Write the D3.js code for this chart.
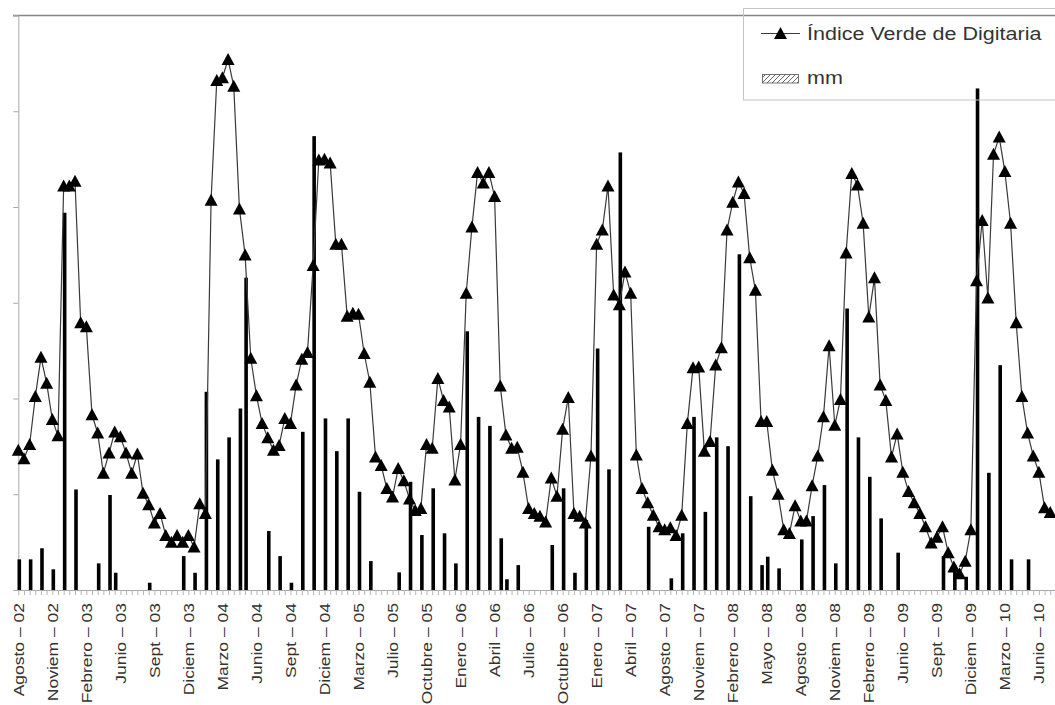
<!DOCTYPE html>
<html>
<head>
<meta charset="utf-8">
<script src="https://cdnjs.cloudflare.com/ajax/libs/d3/7.8.5/d3.min.js"></script>
<style>
  html, body { margin:0; padding:0; background:#fff; }
  svg { display:block; font-family:"Liberation Sans", Arial, sans-serif; }
</style>
</head>
<body>
<div id="chart"></div>
<script>
/* Índice verde de Digitaria (16-day composites) + precipitación (mm) */

const ETIQUETAS = [
  "Agosto – 02","Noviem – 02","Febrero – 03","Junio – 03","Sept – 03","Diciem – 03",
  "Marzo – 04","Junio – 04","Sept – 04","Diciem – 04","Marzo – 05","Julio – 05",
  "Octubre – 05","Enero – 06","Abril – 06","Julio – 06","Octubre – 06","Enero – 07",
  "Abril – 07","Agosto – 07","Noviem – 07","Febrero – 08","Mayo – 08","Agosto – 08",
  "Noviem – 08","Febrero – 09","Junio – 09","Sept – 09","Diciem – 09","Marzo – 10","Junio – 10"
];
const PASO_ETIQ = 6;   // one label every 6 periods

const indiceVerde = [
  .146,.137,.152,.202,.243,.216,.178,.161,.422,.422,
  .427,.279,.275,.183,.164,.122,.143,.165,.160,.143,
  .122,.142,.101,.089,.070,.080,.057,.050,.057,.050,
  .057,.045,.090,.080,.407,.532,.535,.554,.526,.398,
  .350,.242,.203,.174,.159,.146,.151,.179,.174,.214,
  .241,.248,.339,.449,.450,.446,.361,.361,.286,.289,
  .288,.247,.217,.139,.130,.106,.097,.127,.114,.095,
  .083,.085,.152,.148,.221,.198,.191,.115,.152,.310,
  .379,.436,.425,.436,.411,.213,.162,.148,.149,.123,
  .085,.080,.077,.071,.117,.098,.168,.201,.080,.077,
  .070,.140,.361,.376,.422,.308,.298,.332,.310,.141,
  .106,.091,.078,.066,.063,.065,.057,.078,.174,.232,
  .233,.145,.155,.235,.253,.376,.405,.426,.414,.347,
  .313,.176,.176,.125,.100,.063,.059,.088,.072,.072,
  .109,.140,.181,.255,.172,.199,.352,.435,.423,.383,
  .285,.326,.214,.198,.139,.163,.123,.103,.091,.080,
  .066,.049,.055,.066,.039,.024,.017,.030,.063,.323,
  .386,.305,.455,.473,.437,.383,.279,.202,.164,.140,
  .123,.086,.081
];

const mm = [
  16,0,16,0,21.8,0,10.8,0,197,0,
  52.5,0,0,0,13.9,0,49.6,9,0,0,
  0,0,0,3.8,0,0,0,0,0,17.7,
  0,9,0,103.5,0,68.2,0,79.7,0,94.8,
  163.1,0,0,0,30.8,0,17.7,0,3.8,0,
  82.6,0,237,0,89.6,0,72.5,0,89.6,0,
  51.3,0,15.1,0,0,0,0,9.2,0,56.5,
  0,28.7,0,53.1,0,29.6,0,13.9,0,135.1,
  0,90.4,0,85.7,0,27,5.6,0,13,0,
  0,0,0,0,23.5,0,53.1,0,9,0,
  36.5,0,126.1,0,63,0,228.5,0,0,0,
  0,33,0,0,0,6.1,0,29.6,0,90.4,
  0,40.8,0,79.7,0,75.1,0,175.3,0,49,
  0,13,17.4,0,11.3,0,0,0,26.4,0,
  38.6,0,54.8,0,13.9,0,147,0,79.7,0,
  59.1,0,37.4,0,0,19.5,0,0,0,0,
  0,0,0,17.7,0,13,0,6.9,0,261.9,
  0,61.2,0,117.4,0,16,0,0,16,0,
  0,0,0
];

const W = 1055, H = 705;
const X0 = 18.3, DX = 5.67, TOP = 15.5, BOT = 590;
const N = indiceVerde.length;

const svg = d3.select("#chart").append("svg").attr("width", W).attr("height", H);

const x  = d3.scaleLinear().domain([0, N - 1]).range([X0, X0 + (N - 1) * DX]);
const y  = d3.scaleLinear().domain([0, 0.6]).range([BOT, TOP]);
const yMm = d3.scaleLinear().domain([0, 300]).range([BOT, TOP]);

/* hatch for the legend swatch */
const defs = svg.append("defs");
defs.append("pattern").attr("id","hatch").attr("patternUnits","userSpaceOnUse")
    .attr("width",5).attr("height",5)
  .append("path").attr("d","M-1,6 L6,-1 M-1,1 L1,-1 M4,6 L6,4")
    .attr("stroke","#555").attr("stroke-width",0.9);

/* ---------- axes ---------- */
// top border
svg.append("line").attr("x1",13).attr("x2",W).attr("y1",y(0.6)).attr("y2",y(0.6))
   .attr("stroke","#858585").attr("stroke-width",1.3);

// left axis, no labels
const yAxis = d3.axisLeft(y).ticks(6).tickSize(5).tickFormat("");
const gy = svg.append("g").attr("transform",`translate(${X0},0)`).call(yAxis);
gy.select(".domain").attr("stroke","#a8a8a8");
gy.selectAll(".tick line").attr("stroke","#a8a8a8");

// bottom axis: minor tick at every period
const xAxis = d3.axisBottom(x).tickValues(d3.range(N)).tickSize(5).tickFormat("");
const gx = svg.append("g").attr("transform",`translate(0,${BOT})`).call(xAxis);
gx.select(".domain").attr("stroke","#a8a8a8").attr("d",`M${X0},0.5H${W}`);
gx.selectAll(".tick line").attr("stroke","#b5b5b5");

// rotated category labels
svg.append("g").selectAll("text").data(ETIQUETAS).enter().append("text")
   .attr("transform",(d,i)=>`translate(${x(i*PASO_ETIQ)},603) scale(0.86,1) rotate(-90)`)
   .attr("text-anchor","end").attr("dy","0.35em")
   .style("font-size","17.5px").attr("fill","#333")
   .text(d=>d);

/* ---------- bars (mm) ---------- */
svg.append("g").selectAll("rect")
   .data(mm.map((v,i)=>({i,v})).filter(d=>d.v>0)).enter().append("rect")
   .attr("x",d=>x(d.i)+1-1.8).attr("width",3.6)
   .attr("y",d=>yMm(d.v)).attr("height",d=>BOT-yMm(d.v))
   .attr("fill","#000");

/* ---------- line + triangles ---------- */
const line = d3.line().x((d,i)=>x(i)).y(d=>y(d));
svg.append("path").datum(indiceVerde).attr("d",line)
   .attr("fill","none").attr("stroke","#3a3a3a").attr("stroke-width",1.2);

const TRI = "M0,-6.5 L6.5,5.5 L-6.5,5.5 Z";
svg.append("g").selectAll("path").data(indiceVerde).enter().append("path")
   .attr("d",TRI).attr("transform",(d,i)=>`translate(${x(i)},${y(d)})`)
   .attr("fill","#000");

/* ---------- legend ---------- */
const lg = svg.append("g");
lg.append("rect").attr("x",743.5).attr("y",8.5).attr("width",330).attr("height",91.5)
  .attr("fill","none").attr("stroke","#c4c4c4");
lg.append("line").attr("x1",761).attr("x2",800).attr("y1",33.5).attr("y2",33.5)
  .attr("stroke","#3a3a3a").attr("stroke-width",1.2);
lg.append("path").attr("d",TRI).attr("transform","translate(780.5,33.5)").attr("fill","#000");
lg.append("text").attr("transform","translate(807,39.5) scale(1.23,1)")
  .style("font-size","17.5px").attr("fill","#333").text("Índice Verde de Digitaria");
lg.append("rect").attr("x",762.5).attr("y",74.5).attr("width",36).attr("height",8.5)
  .attr("fill","url(#hatch)").attr("stroke","#555").attr("stroke-width",0.8);
lg.append("text").attr("transform","translate(807,83.5) scale(1.23,1)")
  .style("font-size","17.5px").attr("fill","#333").text("mm");
</script>
</body>
</html>
